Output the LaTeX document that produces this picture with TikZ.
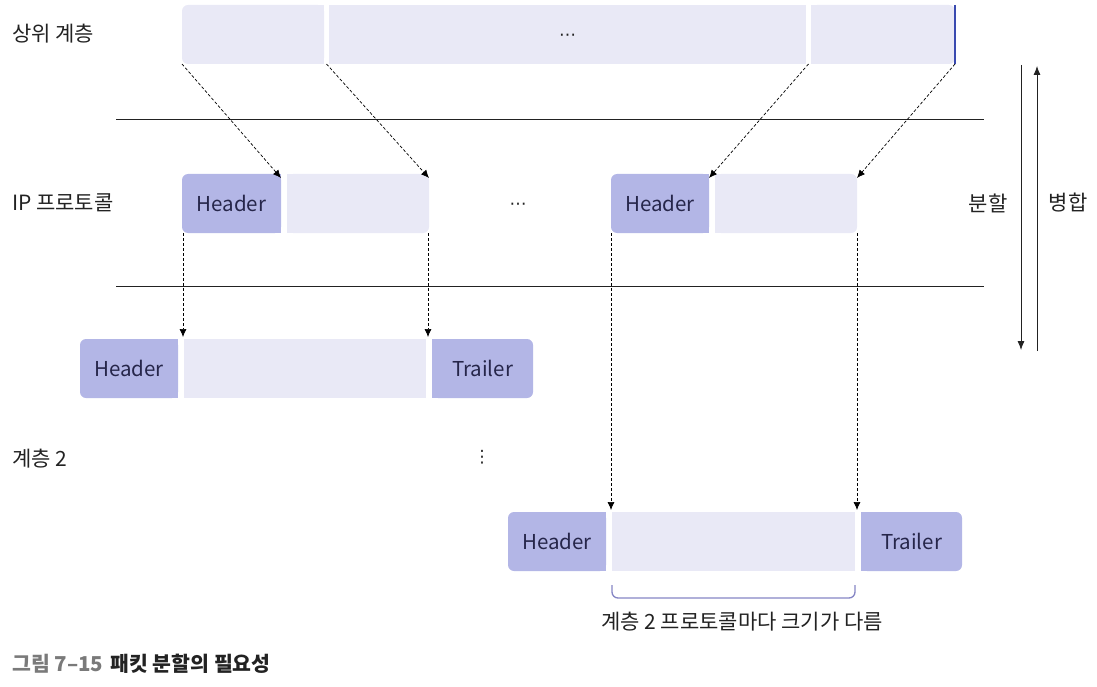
\documentclass[tikz,border=0pt]{standalone}
\usepackage{fontspec}
\setmainfont{Noto Sans CJK KR}
\newfontfamily\symfont{DejaVu Sans}
\usepackage{xcolor}
\usetikzlibrary{positioning, arrows.meta}

\definecolor{payc}{HTML}{E9E9F6}
\definecolor{hdrc}{HTML}{B3B6E6}
\definecolor{txtc}{HTML}{26264A}
\definecolor{lblc}{HTML}{222222}
\definecolor{endc}{HTML}{3A4AB0}
\definecolor{bracec}{HTML}{8585C4}
\definecolor{capgray}{HTML}{7A7A7A}

\tikzset{
  seg/.style={inner sep=0pt, outer sep=0pt, minimum height=59pt, anchor=north west,
    text=txtc, font=\fontsize{20.5}{20.5}\selectfont},
  hdr/.style={seg, fill=hdrc},
  pay/.style={seg, fill=payc},
  lend/.style={rounded corners=6pt},
  tag/.style={anchor=west, inner sep=0pt, text=lblc, font=\fontsize{21}{21}\selectfont},
  dots/.style={text=lblc, inner sep=0pt, font=\symfont\fontsize{17}{17}\selectfont},
  mapsto/.style={dash pattern=on 3pt off 2pt, line width=0.7pt,
    -{Latex[length=8pt,width=7pt]}},
}

\begin{document}
\begin{tikzpicture}[x=1pt,y=-1pt]
  \useasboundingbox (0,0) rectangle (1097,687);

  % upper layer
  \node[tag] (upper) at (12,34) {상위 계층};
  \node[pay,lend,minimum width=142pt] (u1) at (182,5) {};
  \fill[payc] ([xshift=-8pt]u1.north east) rectangle (u1.south east);
  \node[pay,minimum width=477pt] (u2) at (329,5) {};
  \node[dots] (updots) at ([yshift=-3pt]u2.center) {⋯};
  \node[pay,lend,minimum width=144pt] (u3) at (811,5) {};
  \fill[payc] (u3.north west) rectangle ([xshift=8pt]u3.south west);
  \draw[endc, line width=1.5pt] (u3.north east) -- (u3.south east);

  \draw[lblc, line width=0.7pt] (116,119) -- (984,119);
  \draw[lblc, line width=0.7pt] (116,286) -- (984,286);

  % IP
  \node[tag] (ip) at (12,203) {IP 프로토콜};
  \node[hdr,lend,minimum width=99pt] (h1) at (182,174) {Header};
  \fill[hdrc] ([xshift=-8pt]h1.north east) rectangle (h1.south east);
  \node[pay,lend,minimum width=142pt] (p1) at (287,174) {};
  \fill[payc] (p1.north west) rectangle ([xshift=8pt]p1.south west);
  \node[dots] (ipdots) at (518,206) {⋯};
  \node[hdr,lend,minimum width=98pt] (h2) at (611,174) {Header};
  \fill[hdrc] ([xshift=-8pt]h2.north east) rectangle (h2.south east);
  \node[pay,lend,minimum width=142pt] (p2) at (715,174) {};
  \fill[payc] (p2.north west) rectangle ([xshift=8pt]p2.south west);

  \draw[mapsto] (u1.south west) -- ([yshift=-4pt]h1.north east);
  \draw[mapsto] ([xshift=-2.5pt]u2.south west) -- ([yshift=-4pt]p1.north east);
  \draw[mapsto] ([xshift=-2.5pt]u3.south west) -- ([yshift=-4pt]h2.north east);
  \draw[mapsto] (u3.south east) -- ([yshift=-4pt]p2.north east);

  % layer 2
  \node[tag] (l2) at (12,459) {계층 2};
  \node[hdr,lend,minimum width=98pt] (h3) at (80,339) {Header};
  \fill[hdrc] ([xshift=-8pt]h3.north east) rectangle (h3.south east);
  \node[pay,minimum width=242pt] (p3) at (184,339) {};
  \node[hdr,lend,minimum width=101pt] (t3) at (432,339) {Trailer};
  \fill[hdrc] (t3.north west) rectangle ([xshift=8pt]t3.south west);
  \node[dots] (l2dots) at (482,457) {⋮};

  \node[hdr,lend,minimum width=98pt] (h4) at (508,512) {Header};
  \fill[hdrc] ([xshift=-8pt]h4.north east) rectangle (h4.south east);
  \node[pay,minimum width=243pt] (p4) at (612,512) {};
  \node[hdr,lend,minimum width=101pt] (t4) at (861,512) {Trailer};
  \fill[hdrc] (t4.north west) rectangle ([xshift=8pt]t4.south west);

  \draw[mapsto] ([xshift=1pt]h1.south west) -- ([xshift=1pt,yshift=2pt]h1.south west |- h3.north);
  \draw[mapsto] ([xshift=-1pt]p1.south east) -- ([xshift=-1pt,yshift=2pt]p1.south east |- t3.north);
  \draw[mapsto] (h2.south west) -- ([yshift=2pt]h2.south west |- h4.north);
  \draw[mapsto] (p2.south east) -- ([yshift=2pt]p2.south east |- t4.north);

  % size brace
  \draw[bracec, line width=1.3pt, rounded corners=6pt]
    ([yshift=-14pt]p4.south west) -- ([yshift=-27pt]p4.south west)
    -- ([yshift=-27pt]p4.south east) -- ([yshift=-14pt]p4.south east);
  \node[text=lblc, inner sep=0pt, font=\fontsize{21}{21}\selectfont] (size) at (742,622) {계층 2 프로토콜마다 크기가 다름};

  % split / merge
  \coordinate (dtop) at (1021,65);
  \coordinate (dbot) at (1021,350);
  \coordinate (mbot) at (1037,351);
  \coordinate (mtop) at (1037,66);
  \draw[lblc, line width=0.8pt, -{Latex[length=9pt,width=7pt]}] (dtop) -- (dbot);
  \draw[lblc, line width=0.8pt, -{Latex[length=9pt,width=7pt]}] (mbot) -- (mtop);
  \node[text=lblc, inner sep=0pt, font=\fontsize{21}{21}\selectfont] (split) at (988,203) {분할};
  \node[text=lblc, inner sep=0pt, font=\fontsize{21}{21}\selectfont] (merge) at (1068,203) {병합};

  % caption
  \node[anchor=west, inner sep=0pt, font=\fontsize{20.5}{20.5}\selectfont\bfseries, text=lblc] (cap) at (12,664)
    {\textcolor{capgray}{그림 7–15}\hspace{7pt}패킷 분할의 필요성};
\end{tikzpicture}
\end{document}
